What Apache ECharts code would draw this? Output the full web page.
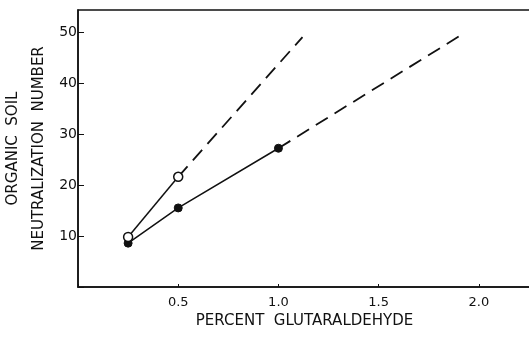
<!DOCTYPE html>
<html><head><meta charset="utf-8">
<script src="https://cdn.jsdelivr.net/npm/echarts@6/dist/echarts.min.js"></script>
<style>html,body{margin:0;padding:0;background:#fff}#c{width:529px;height:338px}</style>
</head><body><div id="c"></div>
<script>
// Measured points (percent glutaraldehyde, neutralization number)
const openX = [0.25, 0.5];
const openY = [9.8, 21.6];
const filledX = [0.25, 0.5, 1.0];
const filledY = [8.6, 15.5, 27.2];
// Dashed extrapolations
const openDashX = [0.5, 1.12];
const openDashY = [21.6, 49.0];
const filledDashX = [1.0, 1.92];
const filledDashY = [27.2, 49.6];

const xTickLabels = ['0.5', '1.0', '1.5', '2.0'];
const yTickLabels = ['10', '20', '30', '40', '50'];
const xTitle = 'PERCENT  GLUTARALDEHYDE';
const yTitle = 'ORGANIC  SOIL\n\nNEUTRALIZATION  NUMBER';

const zip = (xs, ys) => xs.map((x, i) => [x, ys[i]]);
const ink = '#111';
const font = 'DejaVu Sans';
const xLab = v => { const s = v.toFixed(1); return xTickLabels.includes(s) ? s : ''; };
const yLab = v => { const s = String(v); return yTickLabels.includes(s) ? s : ''; };

const chart = echarts.init(document.getElementById('c'));
chart.setOption({
  animation: false,
  backgroundColor: '#fff',
  grid: { left: 78, top: 10, right: -2, bottom: 51, containLabel: false, outerBoundsMode: 'none',
          show: true, borderColor: ink, borderWidth: 1.5 },
  xAxis: {
    type: 'value', min: 0, max: 2.26, interval: 0.5,
    name: xTitle, nameLocation: 'middle', nameGap: 27,
    nameTextStyle: { color: ink, fontFamily: font, fontSize: 15 },
    axisLine: { lineStyle: { color: ink, width: 1.5 } },
    axisTick: { inside: true, length: 3, lineStyle: { color: ink } },
    axisLabel: { color: ink, fontFamily: font, fontSize: 13, margin: 9, showMaxLabel: false, formatter: xLab },
    splitLine: { show: false }
  },
  yAxis: {
    type: 'value', min: 0, max: 54.3, interval: 10,
    name: yTitle, nameLocation: 'middle', nameGap: 32, nameRotate: 90,
    nameTextStyle: { color: ink, fontFamily: font, fontSize: 15, lineHeight: 13, align: 'center' },
    axisLine: { lineStyle: { color: ink, width: 1.5 } },
    axisTick: { inside: true, length: 6, lineStyle: { color: ink } },
    axisLabel: { color: ink, fontFamily: font, fontSize: 14, margin: 1, showMaxLabel: false, formatter: yLab },
    splitLine: { show: false }
  },
  series: [
    { type: 'line', data: zip(openDashX, openDashY), symbol: 'none', z: 2,
      lineStyle: { color: ink, width: 1.8, type: [14, 8] } },
    { type: 'line', data: zip(filledDashX, filledDashY), symbol: 'none', z: 2,
      lineStyle: { color: ink, width: 1.8, type: [14, 8] } },
    { type: 'line', data: zip(filledX, filledY), symbol: 'circle', symbolSize: 8, z: 3,
      lineStyle: { color: ink, width: 1.5 }, itemStyle: { color: ink, borderColor: ink } },
    { type: 'line', data: zip(openX, openY), symbol: 'circle', symbolSize: 9, z: 4,
      lineStyle: { color: ink, width: 1.5 },
      itemStyle: { color: '#fff', borderColor: ink, borderWidth: 1.5 } }
  ]
});
</script></body></html>
